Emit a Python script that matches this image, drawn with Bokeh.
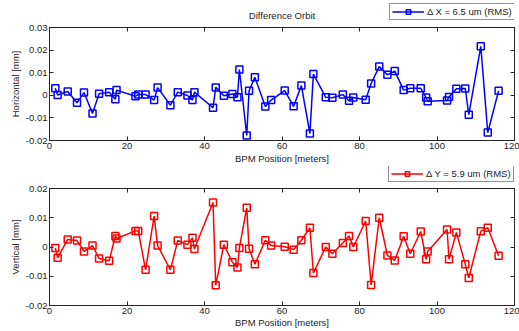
from bokeh.plotting import figure
from bokeh.layouts import column
from bokeh.models import (Range1d, LinearAxis, FixedTicker, CustomJSTickFormatter,
                          Legend, LegendItem, Label)
from bokeh.embed import file_html
from bokeh.resources import INLINE

# BPM positions [m]
bpm_s = [1.5, 2.1, 4.7, 7.1, 8.9, 11.1, 12.8, 15.4, 17.0, 17.3,
         22.2, 22.9, 24.8, 27.0, 27.9, 31.2, 33.1, 35.6, 36.9, 37.4,
         42.2, 42.9, 45.0, 47.2, 48.5, 49.0, 50.9, 51.5, 53.0, 55.7,
         57.2, 60.7, 63.0, 65.0, 67.2, 68.1, 71.3, 73.0, 75.7, 77.3,
         78.4, 81.6, 83.0, 85.1, 87.2, 89.1, 91.4, 93.1, 95.8, 97.2,
         97.6, 102.6, 103.1, 105.0, 107.3, 108.2, 111.3, 113.1, 115.9]

# Horizontal difference orbit [mm]
dx = [0.0031, 0.0001, 0.0017, -0.0033, 0.0012, -0.0080, 0.0007, 0.0014, -0.0017, 0.0023,
      -0.0004, 0.0003, 0.0003, -0.0021, 0.0034, -0.0044, 0.0014, -0.0001, -0.0021, 0.0014,
      -0.0055, 0.0035, -0.0002, 0.0006, -0.0009, 0.0114, -0.0178, 0.0020, 0.0080, -0.0050,
      -0.0021, 0.0021, -0.0049, 0.0043, -0.0169, 0.0094, -0.0009, -0.0011, 0.0003, -0.0024,
      -0.0010, -0.0020, 0.0052, 0.0127, 0.0091, 0.0107, 0.0023, 0.0031, 0.0031, -0.0010,
      -0.0026, -0.0023, -0.0007, 0.0029, 0.0030, -0.0086, 0.0217, -0.0165, 0.0020]

# Vertical difference orbit [mm]
dy = [-0.0003, -0.0037, 0.0026, 0.0022, -0.0015, 0.0005, -0.0039, -0.0047, 0.0038, 0.0029,
      0.0055, 0.0055, -0.0078, 0.0106, 0.0005, -0.0078, 0.0022, 0.0008, 0.0032, -0.0007,
      0.0152, -0.0131, 0.0008, -0.0052, -0.0070, -0.0003, 0.0134, -0.0006, -0.0059, 0.0023,
      0.0005, 0.0001, -0.0009, 0.0023, 0.0066, -0.0089, 0.0000, -0.0023, 0.0014, 0.0038,
      0.0000, 0.0089, -0.0130, 0.0100, -0.0029, -0.0046, 0.0037, -0.0023, 0.0053, -0.0042,
      -0.0015, 0.0060, -0.0042, 0.0050, -0.0059, -0.0106, 0.0054, 0.0066, -0.0030]

x_ticks = [0, 20, 40, 60, 80, 100, 120]
y_ticks_h = [-0.02, -0.01, 0, 0.01, 0.02, 0.03]
y_ticks_v = [-0.02, -0.01, 0, 0.01, 0.02]

title_text = "Difference Orbit"
x_label = "BPM Position [meters]"
label_h = "\u0394 X = 6.5 um (RMS)"
label_v = "\u0394 Y = 5.9 um (RMS)"

FONT = "Liberation Sans"
FS = "9.5px"
AX_COLOR = "#262626"
TXT = "#222222"
W = 519

fmt = CustomJSTickFormatter(code="""
    if (Math.abs(tick) < 1e-12) { return "0"; }
    return tick.toFixed(2);
""")


def style_axis(ax, show_labels=True, label_standoff=0):
    ax.major_tick_in = 4
    ax.major_tick_out = 0
    ax.minor_tick_line_color = None
    ax.axis_line_color = AX_COLOR
    ax.major_tick_line_color = AX_COLOR
    if show_labels:
        ax.major_label_text_font = FONT
        ax.major_label_text_font_size = FS
        ax.major_label_text_color = TXT
        ax.major_label_standoff = 2
        ax.axis_label_text_font = FONT
        ax.axis_label_text_font_size = FS
        ax.axis_label_text_font_style = "normal"
        ax.axis_label_text_color = TXT
        ax.axis_label_standoff = label_standoff
    else:
        ax.major_label_text_font_size = "0px"
        ax.major_label_text_alpha = 0
        ax.major_label_standoff = 0


def make_header(height, yvals, color, leg_label, leg_loc, title=None):
    # strip above each axes box holding its legend (and the title)
    h = figure(width=W, height=height, output_backend="svg", toolbar_location=None,
               x_range=Range1d(0, 120), y_range=Range1d(1, 2),
               x_axis_location=None, y_axis_location=None,
               min_border_left=49, min_border_right=5,
               min_border_top=0, min_border_bottom=0)
    h.xgrid.visible = False
    h.ygrid.visible = False
    h.outline_line_color = None
    h.background_fill_color = "white"
    h.border_fill_color = "white"
    # same series, outside this strip's range: only feeds the legend glyph
    ln = h.line(bpm_s, yvals, line_color=color, line_width=1.5)
    sc = h.scatter(bpm_s, yvals, marker="square", size=7, fill_color=None,
                   line_color=color, line_width=1.5)
    leg = Legend(items=[LegendItem(label=leg_label, renderers=[ln, sc])],
                 location=leg_loc, orientation="vertical")
    leg.label_text_font = FONT
    leg.label_text_font_size = FS
    leg.label_text_color = TXT
    leg.glyph_width = 32
    leg.glyph_height = 11
    leg.label_height = 11
    leg.label_standoff = 3
    leg.padding = 2
    leg.margin = 0
    leg.spacing = 0
    leg.border_line_color = AX_COLOR
    leg.border_line_width = 1
    leg.background_fill_color = "white"
    leg.background_fill_alpha = 1.0
    h.add_layout(leg, "center")
    if title:
        h.add_layout(Label(x=232.5, y=height - 15, x_units="screen", y_units="screen",
                           text=title, text_align="center", text_baseline="middle",
                           text_font=FONT, text_font_size=FS, text_color=TXT))
    return h


def make_panel(yvals, color, ylabel, yticks, yr, height, top, bottom, xlabel_standoff):
    p = figure(width=W, height=height, output_backend="svg", toolbar_location=None,
               x_range=Range1d(0, 120), y_range=Range1d(*yr),
               min_border_left=49, min_border_right=5,
               min_border_top=top, min_border_bottom=bottom)
    p.xgrid.visible = False
    p.ygrid.visible = False
    p.outline_line_color = AX_COLOR
    p.background_fill_color = "white"
    p.border_fill_color = "white"

    p.xaxis.ticker = FixedTicker(ticks=x_ticks)
    p.yaxis.ticker = FixedTicker(ticks=yticks)
    p.xaxis.axis_label = x_label
    p.yaxis.axis_label = ylabel
    p.yaxis.formatter = fmt
    style_axis(p.xaxis[0], label_standoff=xlabel_standoff)
    style_axis(p.yaxis[0], label_standoff=2)

    ax_r = LinearAxis(ticker=FixedTicker(ticks=yticks))
    ax_t = LinearAxis(ticker=FixedTicker(ticks=x_ticks))
    style_axis(ax_r, False)
    style_axis(ax_t, False)
    p.add_layout(ax_r, "right")
    p.add_layout(ax_t, "above")

    p.line(bpm_s, yvals, line_color=color, line_width=1.5)
    p.scatter(bpm_s, yvals, marker="square", size=7, fill_color=None,
              line_color=color, line_width=1.5)
    return p


head1 = make_header(21, dx, "#0000ff", label_h, (340, 1), title=title_text)
top_fig = make_panel(dx, "#0000ff", "Horizontal [mm]", y_ticks_h, (-0.02, 0.03), 145, 6, 23, 1)
head2 = make_header(17, dy, "#ff0000", label_v, (339, 1))
bot_fig = make_panel(dy, "#ff0000", "Vertical [mm]", y_ticks_v, (-0.02, 0.02), 148, 5, 26, 0)

layout = column(head1, top_fig, head2, bot_fig, spacing=0)
open("out.html", "w").write(file_html(layout, INLINE))
